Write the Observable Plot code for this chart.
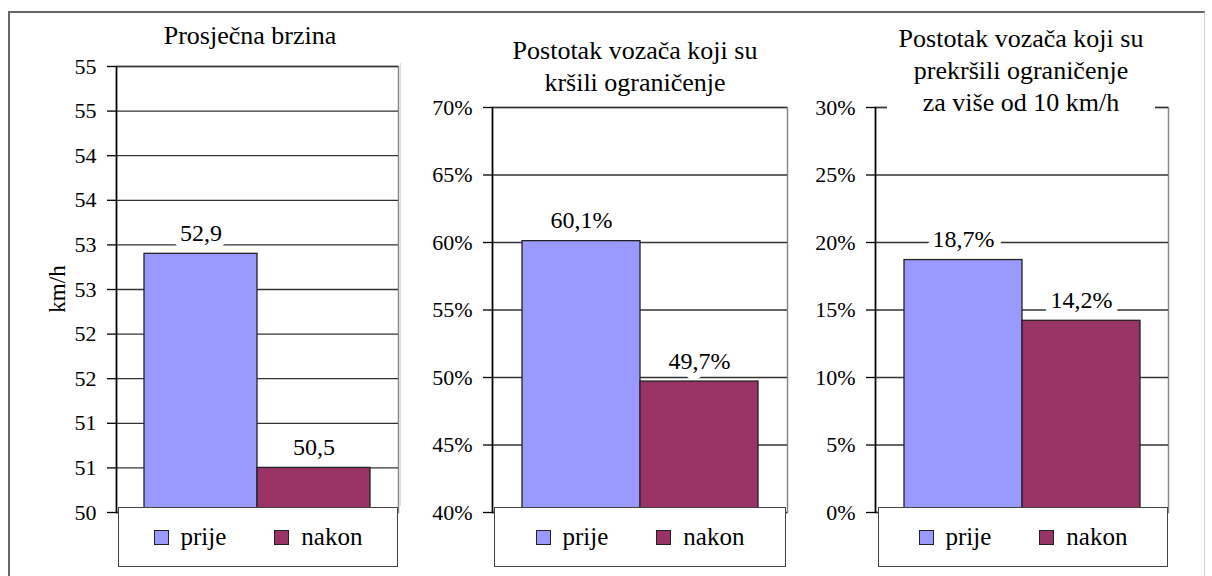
<!DOCTYPE html>
<html>
<head>
<meta charset="utf-8">
<script src="https://cdn.jsdelivr.net/npm/d3@7"></script>
<script src="https://cdn.jsdelivr.net/npm/@observablehq/plot@0.6"></script>
<style>
  html, body { margin: 0; padding: 0; background: #fff; font-family: 'Liberation Serif', 'Times New Roman', serif; }
  #root { position: relative; width: 1212px; height: 576px; overflow: hidden; color: #000; }
  .abs { position: absolute; }
  .title { position: absolute; text-align: center; font-size: 26px; line-height: 32px; white-space: nowrap; }
  .legend { position: absolute; box-sizing: border-box; border: 1.5px solid #444; background: #fff; display: flex; align-items: center; justify-content: center; font-size: 25px; }
  .item { display: flex; align-items: center; }
  .sw { width: 13px; height: 13px; border: 1px solid #222; margin-right: 12px; }
  .ylab { position: absolute; font-size: 23px; transform: rotate(-90deg); transform-origin: center; white-space: nowrap; }
</style>
</head>
<body>
<div id="root" style="font-family: 'Liberation Serif', 'Times New Roman', serif;"></div>
<script>
// ---- data ----
const categories = ["prije", "nakon"];
const colors = ["#9999FF", "#993366"];

const speedValues = [52.9, 50.5];
const violatorsValues = [60.1, 49.7];
const over10Values = [18.7, 14.2];

const speedTicks = [50, 50.5, 51, 51.5, 52, 52.5, 53, 53.5, 54, 54.5, 55];
const speedTickLabels = ["50", "51", "51", "52", "52", "53", "53", "54", "54", "55", "55"];
const violatorsTicks = [40, 45, 50, 55, 60, 65, 70];
const violatorsTickLabels = ["40%", "45%", "50%", "55%", "60%", "65%", "70%"];
const over10Ticks = [0, 5, 10, 15, 20, 25, 30];
const over10TickLabels = ["0%", "5%", "10%", "15%", "20%", "25%", "30%"];

const titles = [
  ["Prosječna brzina"],
  ["Postotak vozača koji su", "kršili ograničenje"],
  ["Postotak vozača koji su", "prekršili ograničenje", "za više od 10 km/h"]
];
const yLabel = "km/h";

// ---- drawing ----
const FONT = "'Liberation Serif', 'Times New Roman', serif";
const root = document.getElementById("root");

function panel({values, ticks, tickLabels, fmt, left, width, mL, mR, mT, mB}) {
  const rows = categories.map((c, i) => ({cat: c, value: values[i]}));
  const domain = [ticks[0], ticks[ticks.length - 1]];
  const svg = Plot.plot({
    width, height: 576,
    marginLeft: mL, marginRight: mR, marginTop: mT, marginBottom: mB,
    style: {fontFamily: FONT, fontSize: "22px", color: "#000", background: "transparent", overflow: "visible"},
    x: {domain: categories, paddingInner: 0, paddingOuter: 0.24, axis: null},
    y: {domain, axis: null},
    color: {domain: categories, range: colors},
    marks: [
      Plot.frame({stroke: "#888", strokeWidth: 1.5}),
      Plot.gridY(ticks, {stroke: "#333", strokeOpacity: 1, strokeWidth: 1.3}),
      Plot.axisY(ticks, {label: null, tickSize: 9, tickPadding: 11, stroke: "#000", strokeWidth: 1.3, fontSize: 22, fill: "#000",
        fontFamily: FONT, tickFormat: d => tickLabels[ticks.indexOf(d)]}),
      Plot.barY(rows, {x: "cat", y1: domain[0], y2: "value", fill: "cat", stroke: "#222", strokeWidth: 1.3}),
      Plot.frame({anchor: "left", stroke: "#000", strokeWidth: 1.6}),
      Plot.text(rows, {x: "cat", y: "value", text: d => fmt(d.value), lineAnchor: "bottom", dy: -13,
        fill: "#000", stroke: "#fff", strokeWidth: 14, fontSize: 24, fontFamily: FONT})
    ]
  });
  svg.style.position = "absolute";
  svg.style.left = left + "px";
  svg.style.top = "0px";
  svg.style.fontFamily = FONT;
  root.appendChild(svg);
}

// outer border
const border = document.createElement("div");
border.className = "abs";
Object.assign(border.style, {left: "8px", top: "11px", width: "1197px", height: "620px", borderTop: "2px solid #666", borderLeft: "2px solid #666", borderRight: "1px solid #d4d4d4", boxSizing: "border-box"});
root.appendChild(border);
const sep = document.createElement("div");
sep.className = "abs";
Object.assign(sep.style, {left: "400px", top: "63px", width: "0px", height: "443px", borderLeft: "1px solid #ddd"});
root.appendChild(sep);

const comma = v => v.toFixed(1).replace(".", ",");
panel({values: speedValues, ticks: speedTicks, tickLabels: speedTickLabels, fmt: comma,
  left: 0, width: 410, mL: 116, mR: 12, mT: 66, mB: 64});
panel({values: violatorsValues, ticks: violatorsTicks, tickLabels: violatorsTickLabels, fmt: v => comma(v) + "%",
  left: 400, width: 400, mL: 92, mR: 13, mT: 107, mB: 64});
panel({values: over10Values, ticks: over10Ticks, tickLabels: over10TickLabels, fmt: v => comma(v) + "%",
  left: 800, width: 412, mL: 75, mR: 44, mT: 107, mB: 64});

// titles
const titleBoxes = [
  {cx: 250, top: 20, bg: false},
  {cx: 635, top: 35, bg: false},
  {cx: 1021, top: 23, bg: true, w: 268}
];
titles.forEach((lines, i) => {
  const b = titleBoxes[i];
  const d = document.createElement("div");
  d.className = "title";
  const w = b.w || 300;
  Object.assign(d.style, {fontFamily: FONT, left: (b.cx - w / 2) + "px", top: b.top + "px", width: w + "px", background: b.bg ? "#fff" : "transparent"});
  lines.forEach(l => {
    const ln = document.createElement("div");
    ln.textContent = l;
    d.appendChild(ln);
  });
  root.appendChild(d);
});

// y label
const yl = document.createElement("div");
yl.className = "ylab";
yl.style.fontFamily = FONT;
yl.textContent = yLabel;
root.appendChild(yl);
yl.style.left = (57 - yl.offsetWidth / 2) + "px";
yl.style.top = (289 - yl.offsetHeight / 2) + "px";

// legends
const legendBoxes = [
  {left: 118, right: 398},
  {left: 494, right: 786},
  {left: 878, right: 1168}
];
legendBoxes.forEach(b => {
  const lg = document.createElement("div");
  lg.className = "legend";
  Object.assign(lg.style, {fontFamily: FONT, left: b.left + "px", top: "507px", width: (b.right - b.left) + "px", height: "60px"});
  categories.forEach((c, i) => {
    const it = document.createElement("div");
    it.className = "item";
    if (i > 0) it.style.marginLeft = "48px";
    const sw = document.createElement("div");
    sw.className = "sw";
    sw.style.background = colors[i];
    const t = document.createElement("span");
    t.textContent = c;
    it.appendChild(sw);
    it.appendChild(t);
    lg.appendChild(it);
  });
  root.appendChild(lg);
});
</script>
</body>
</html>
